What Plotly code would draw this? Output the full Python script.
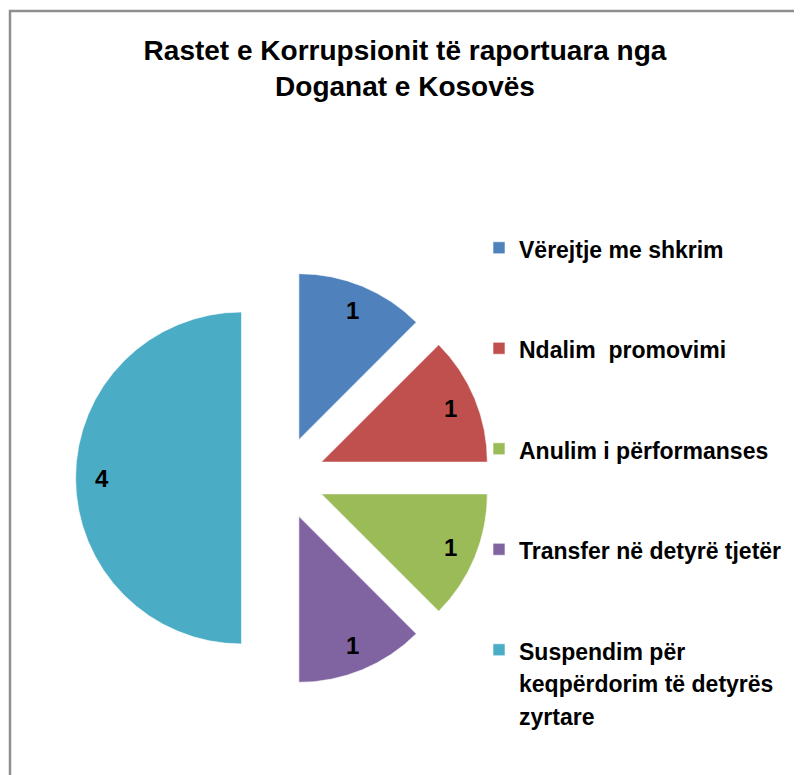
import math
import plotly.graph_objects as go

# ---- data ----
categories = [
    "Vërejtje me shkrim",
    "Ndalim promovimi",
    "Anulim i përformanses",
    "Transfer në detyrë tjetër",
    "Suspendim për keqpërdorim të detyrës zyrtare",
]
values = [1, 1, 1, 1, 4]
legend_lines = [
    ["Vërejtje me shkrim"],
    ["Ndalim  promovimi"],
    ["Anulim i përformanses"],
    ["Transfer në detyrë tjetër"],
    ["Suspendim për", "keqpërdorim të detyrës", "zyrtare"],
]
colors = ["#4F81BD", "#C0504D", "#9BBB59", "#8064A2", "#4BACC6"]
title_lines = ["Rastet e Korrupsionit të raportuara nga", "Doganat e Kosovës"]

# ---- layout constants (figure sits at an 8px page offset) ----
W, H = 794, 767
FONT = "Liberation Sans, Arial, DejaVu Sans, sans-serif"
PULL = 0.25
dom_x = [67.5 / W, 482.5 / W]
dom_y = [1 - 677.5 / H, 1 - 262.5 / H]
LABEL_R = 0.84

# legend labels padded to 3 lines so entries are evenly spaced
legend_labels = []
for lines in legend_lines:
    pad = ["<span style='font-size:23px'>%s</span>" % t for t in lines]
    pad += [" "] * (3 - len(lines))
    legend_labels.append("<br>".join(pad))

fig = go.Figure()
fig.add_trace(go.Pie(
    labels=legend_labels,
    values=values,
    marker=dict(colors=colors, line=dict(color="rgba(255,255,255,0.6)", width=1)),
    sort=False,
    direction="clockwise",
    rotation=0,
    pull=[PULL] * len(values),
    textinfo="none",
    hoverinfo="value",
    domain=dict(x=dom_x, y=dom_y),
    showlegend=True,
))

# value labels placed near the outer end of each slice, derived from the data
total = sum(values)
box = min((dom_x[1] - dom_x[0]) * W, (dom_y[1] - dom_y[0]) * H)
r = box / (2 + 2 * PULL)
cx = (dom_x[0] + dom_x[1]) / 2 * W
cy = (1 - (dom_y[0] + dom_y[1]) / 2) * H
annotations = []
cum = 0
for v in values:
    mid = (cum + v / 2) / total * 2 * math.pi
    cum += v
    dx, dy = math.sin(mid), -math.cos(mid)
    px = cx + (PULL + LABEL_R) * r * dx
    py = cy + (PULL + LABEL_R) * r * dy
    annotations.append(dict(
        x=px / W, y=1 - py / H, xref="paper", yref="paper",
        text=str(v), showarrow=False,
        font=dict(family=FONT, size=24, color="black", weight="bold"),
        xanchor="center", yanchor="middle",
    ))

fig.update_layout(
    width=W, height=H,
    margin=dict(l=0, r=0, t=0, b=0),
    paper_bgcolor="white",
    plot_bgcolor="white",
    title=dict(
        text="<br>".join(title_lines),
        x=397 / W, xanchor="center",
        y=1 - 52 / H, yanchor="top", yref="container",
        font=dict(family=FONT, size=28, color="black", weight="bold"),
    ),
    legend=dict(
        x=471 / W, xanchor="left",
        y=1 - 217 / H, yanchor="top",
        font=dict(family=FONT, size=25, color="black", weight="bold"),
        valign="top",
        bgcolor="rgba(0,0,0,0)",
        borderwidth=0,
    ),
    annotations=annotations,
    shapes=[dict(
        type="rect", xref="paper", yref="paper",
        x0=2 / W, x1=789 / W, y0=-0.05, y1=1 - 3 / H,
        line=dict(color="#8f8f8f", width=2.5),
        fillcolor="rgba(0,0,0,0)", layer="below",
    )],
)

fig.write_html("out.html")
